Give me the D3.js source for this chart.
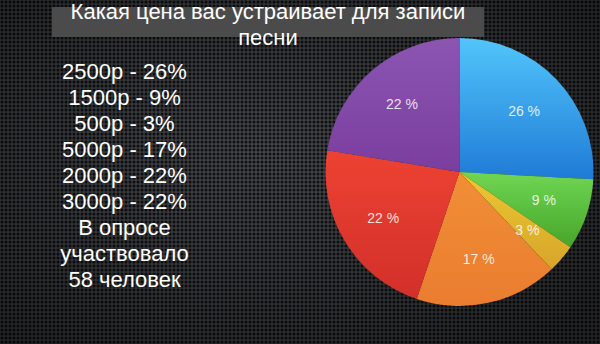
<!DOCTYPE html>
<html><head><meta charset="utf-8">
<script src="https://cdn.jsdelivr.net/npm/d3@7"></script>
<style>html,body{margin:0;padding:0;background:#1a1b1d;}svg{display:block;}</style>
</head><body>
<svg id="c" width="600" height="344"></svg>
<script>
const titleLines = ["Какая цена вас устраивает для записи", "песни"];
const categories = ["2500р", "1500р", "500р", "5000р", "2000р", "3000р"];
const percents = [26, 9, 3, 17, 22, 22];
const respondents = [15, 5, 2, 10, 13, 13];
const noteLines = ["В опросе", "участвовало", "58 человек"];
const colorsTop = ["#52c5fb", "#6fd653", "#ecc832", "#f08f36", "#ec4232", "#8c55b2"];
const colorsBottom = ["#1f7bd6", "#47a52a", "#d6a52a", "#ea7c30", "#d2302a", "#7a3e9e"];

const svg = d3.select("#c");
const W = 600, H = 344;
const defs = svg.append("defs");

// background texture
const pat = defs.append("pattern").attr("id", "mesh").attr("width", 4).attr("height", 4)
  .attr("patternUnits", "userSpaceOnUse");
pat.append("rect").attr("width", 4).attr("height", 4).attr("fill", "#45464a");
pat.append("circle").attr("cx", 2).attr("cy", 2).attr("r", 1.5).attr("fill", "#0f1012");
const vig = defs.append("radialGradient").attr("id", "vig").attr("cx", "45%").attr("cy", "45%").attr("r", "70%");
vig.append("stop").attr("offset", "0%").attr("stop-color", "#000").attr("stop-opacity", 0);
vig.append("stop").attr("offset", "100%").attr("stop-color", "#000").attr("stop-opacity", 0.5);
svg.append("rect").attr("width", W).attr("height", H).attr("fill", "url(#mesh)");
svg.append("rect").attr("width", W).attr("height", H).attr("fill", "url(#vig)");

// title box
svg.append("rect").attr("x", 52).attr("y", 7).attr("width", 432).attr("height", 30).attr("fill", "#4b4b4c");
svg.append("g").selectAll("text").data(titleLines).join("text")
  .attr("x", 268).attr("y", (d, i) => 19 + i * 25.5)
  .attr("text-anchor", "middle").attr("fill", "#fff")
  .style("font-family", "'Liberation Sans', Arial, sans-serif").style("font-size", "22px")
  .text(d => d);

// left text
const leftLines = categories.map((c, i) => `${c} - ${percents[i]}%`).concat(noteLines);
svg.append("g").selectAll("text").data(leftLines).join("text")
  .attr("x", 124.5).attr("y", (d, i) => 78.5 + i * 26.1)
  .attr("text-anchor", "middle").attr("fill", "#fff")
  .style("font-family", "'Liberation Sans', Arial, sans-serif").style("font-size", "22px")
  .text(d => d);

// pie
const cx = 459.5, cy = 172, R = 134;
const pie = d3.pie().sort(null).value(d => d)(respondents);
const arc = d3.arc().innerRadius(0).outerRadius(R);
const labelArc = d3.arc().innerRadius(89).outerRadius(89);

pie.forEach((p, i) => {
  const g = defs.append("linearGradient").attr("id", "sg" + i)
    .attr("gradientUnits", "objectBoundingBox").attr("x1", 0).attr("y1", 0).attr("x2", 0).attr("y2", 1);
  g.append("stop").attr("offset", "0%").attr("stop-color", colorsTop[i]);
  g.append("stop").attr("offset", "100%").attr("stop-color", colorsBottom[i]);
});

const pg = svg.append("g").attr("transform", `translate(${cx},${cy})`);
pg.selectAll("path").data(pie).join("path")
  .attr("d", arc).attr("fill", (d, i) => `url(#sg${i})`);
pg.selectAll("text").data(pie).join("text")
  .attr("transform", d => `translate(${labelArc.centroid(d)})`)
  .attr("text-anchor", "middle").attr("dy", "0.35em")
  .attr("fill", "#fff").attr("fill-opacity", 0.85)
  .style("font-family", "'Liberation Sans', Arial, sans-serif").style("font-size", "14px")
  .text((d, i) => `${percents[i]} %`);
</script>
</body></html>
